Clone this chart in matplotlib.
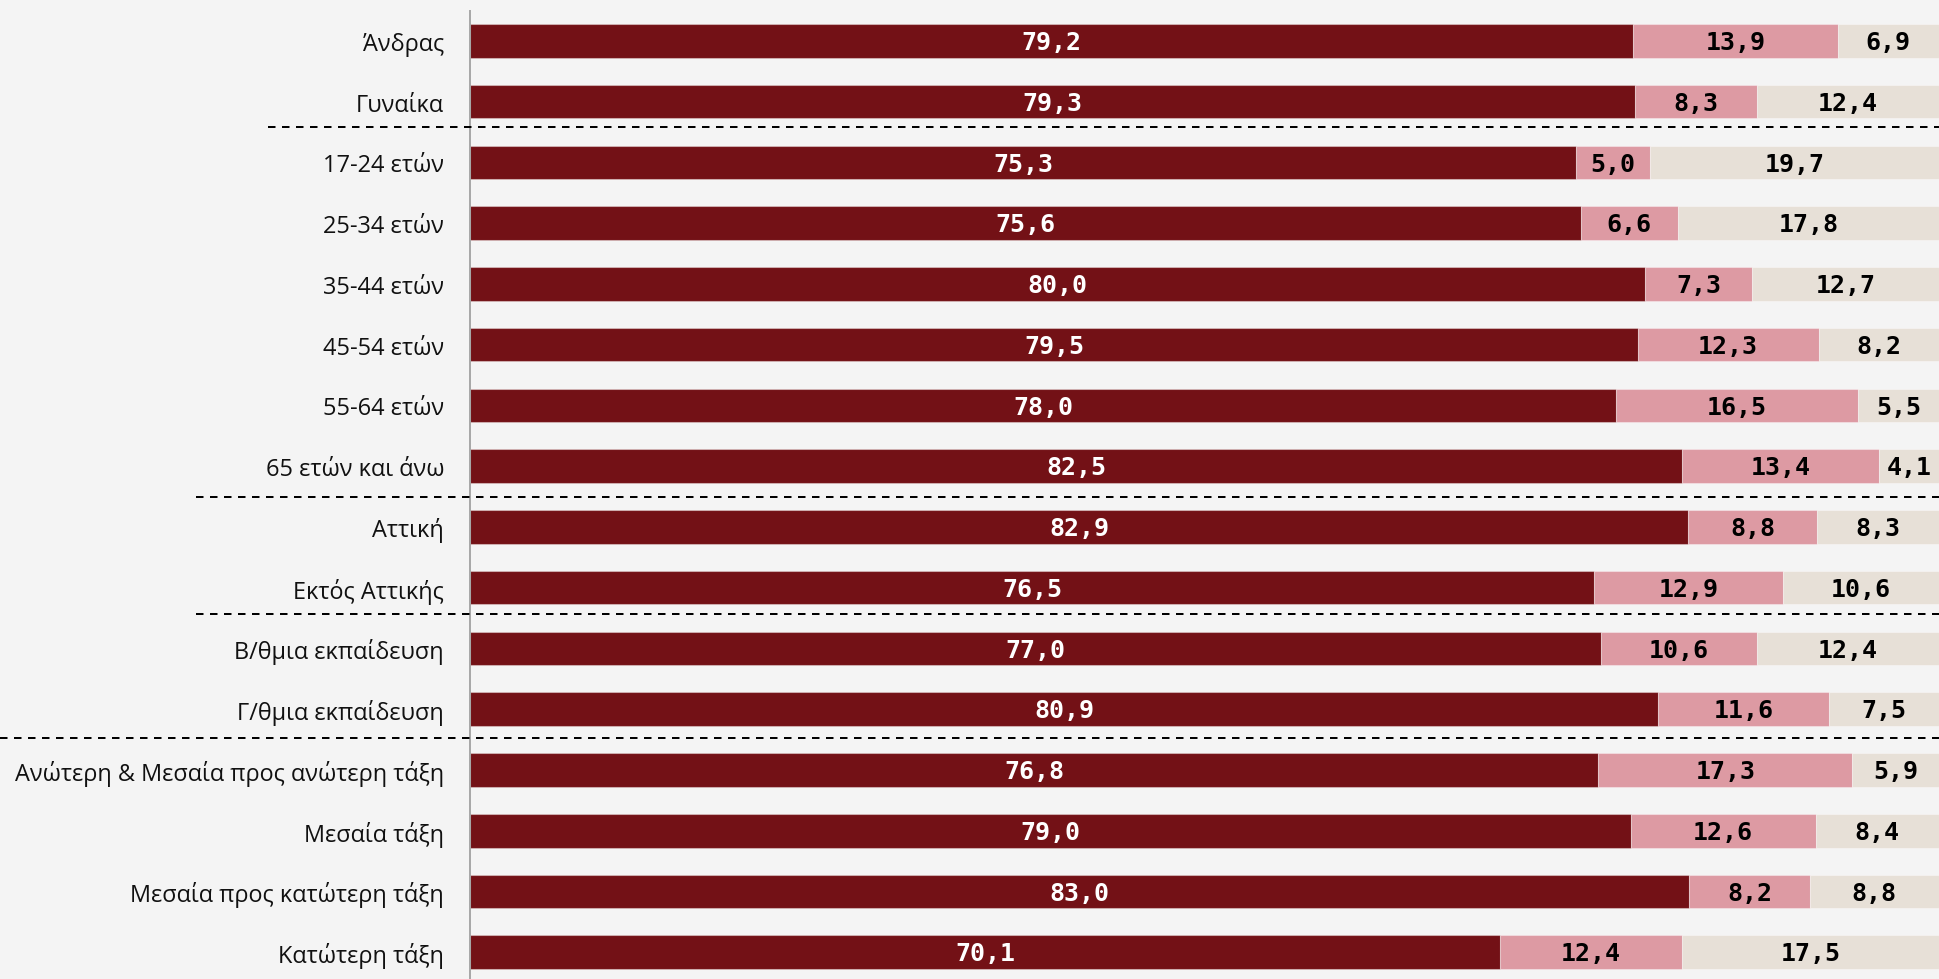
import matplotlib
matplotlib.use("Agg")
import matplotlib.pyplot as plt
from matplotlib.lines import Line2D
from matplotlib import transforms

categories = ['Άνδρας', 'Γυναίκα', '17-24 ετών', '25-34 ετών', '35-44 ετών',
              '45-54 ετών', '55-64 ετών', '65 ετών και άνω', 'Αττική',
              'Εκτός Αττικής', 'Β/θμια εκπαίδευση', 'Γ/θμια εκπαίδευση',
              'Ανώτερη & Μεσαία προς ανώτερη τάξη', 'Μεσαία τάξη',
              'Μεσαία προς κατώτερη τάξη', 'Κατώτερη τάξη']
series1 = [79.2, 79.3, 75.3, 75.6, 80.0, 79.5, 78.0, 82.5, 82.9, 76.5, 77.0, 80.9, 76.8, 79.0, 83.0, 70.1]
series2 = [13.9, 8.3, 5.0, 6.6, 7.3, 12.3, 16.5, 13.4, 8.8, 12.9, 10.6, 11.6, 17.3, 12.6, 8.2, 12.4]
series3 = [6.9, 12.4, 19.7, 17.8, 12.7, 8.2, 5.5, 4.1, 8.3, 10.6, 12.4, 7.5, 5.9, 8.4, 8.8, 17.5]

colors = ['#731116', '#dd9aa3', '#e7e0d7']
text_colors = ['white', 'black', 'black']
bg = '#f4f4f4'

# separators: (y position in data units, left start in figure fraction)
separators = [(1.42, 0.1382), (7.5, 0.1011), (9.44, 0.1011), (11.48, 0.0)]

W, H = 1939, 980
fig = plt.figure(figsize=(W / 100, (H - 0.01) / 100), dpi=100, facecolor=bg)
ax = fig.add_axes([470 / W, 0.0, 1 - 470 / W, 1 - 11.7 / H])
ax.set_facecolor(bg)

y = list(range(len(categories)))
left = [0.0] * len(categories)
for vals, col, tcol in zip([series1, series2, series3], colors, text_colors):
    ax.barh(y, vals, left=left, height=0.553, color=col,
            edgecolor=(1, 1, 1, 0.35), linewidth=0.8)
    for yi, l, v in zip(y, left, vals):
        ax.text(l + v / 2, yi + 0.02, f"{v:.1f}".replace('.', ','), ha='center', va='center',
                color=tcol, fontsize=18, fontweight='bold', family='DejaVu Sans Mono')
    left = [a + b for a, b in zip(left, vals)]

ax.set_xlim(0, 100)
ax.set_ylim(15.44, -0.495)
ax.set_yticks(y)
ax.set_yticklabels(categories, family=['Open Sans', 'DejaVu Sans'], fontsize=16.9, color='#111111')
ax.tick_params(axis='y', length=0, pad=18.7)
ax.set_xticks([])
for s in ['top', 'right', 'bottom']:
    ax.spines[s].set_visible(False)
ax.spines['left'].set_color('#a6a6a6')
ax.spines['left'].set_linewidth(1.4)

trans = transforms.blended_transform_factory(fig.transFigure, ax.transData)
for yy, x0 in separators:
    ln = Line2D([x0, 1.0], [yy, yy], transform=trans, color='black',
                linewidth=1.44, linestyle=(0, (3.75, 3.25)), clip_on=False, zorder=5)
    fig.add_artist(ln)

fig.savefig('out.png', dpi=100, facecolor=bg)
